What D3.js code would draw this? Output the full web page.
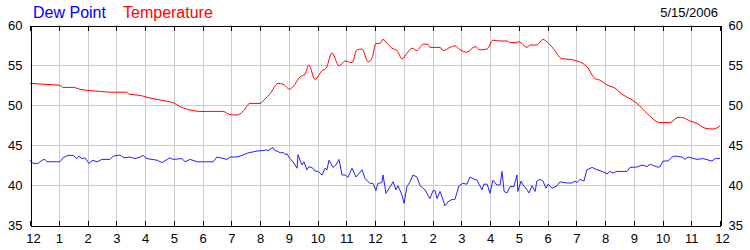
<!DOCTYPE html>
<html>
<head>
<meta charset="utf-8">
<script src="https://cdn.jsdelivr.net/npm/d3@7"></script>
<style>
  body { margin: 0; background: #fff; }
  svg text { font-family: "Liberation Sans", Arial, sans-serif; }
  .axis path, .axis line { stroke: #000; shape-rendering: crispEdges; }
  .axis text { font-size: 13px; fill: #000; }
  .grid line { stroke: #cccccc; shape-rendering: crispEdges; }
</style>
</head>
<body>
<div id="chart"></div>
<script>
// ---- size
const w = 750;
const h = 250;

// ---- padding
const pLeft = 30;
const pRight = 30;
const pTop = 25;
const pBottom = 25;

// ---- data (hours after midnight, degrees F)
const tempHours = [0.00, 0.45, 1.04, 1.15, 1.50, 1.74, 2.09, 2.43, 2.78, 3.37, 3.45, 3.83, 4.07, 4.42, 4.77, 4.97,
    5.22, 5.67, 5.91, 6.71, 6.96, 7.20, 7.41, 7.65, 8.00, 8.17, 8.35, 8.63, 8.80, 9.04, 9.15, 9.39, 9.57, 9.70,
    9.91, 10.16, 10.30, 10.50, 10.75, 10.96, 11.20, 11.37, 11.55, 11.76, 11.90, 12.03, 12.17, 12.28, 12.42,
    12.59, 12.77, 12.94, 13.11, 13.29, 13.46, 13.67, 13.84, 13.91, 14.26, 14.37, 14.61, 14.78, 14.96, 15.20,
    15.48, 15.65, 15.90, 16.10, 16.35, 16.59, 16.70, 16.87, 17.01, 17.29, 17.39, 17.63, 17.84, 17.98, 18.19,
    18.50, 18.78, 19.03, 19.37, 19.65, 19.83, 20.07, 20.35, 20.63, 20.87, 21.11, 21.46, 21.81, 21.91, 22.26,
    22.54, 22.71, 22.96, 23.20, 23.48, 23.76, 24.00];
const tempValues = [52.7, 52.6, 52.46, 52.2, 52.2, 51.96, 51.8, 51.7, 51.6, 51.6, 51.35, 51.2, 50.96, 50.7, 50.46, 50.3,
    49.8, 49.3, 49.2, 49.2, 48.8, 48.75, 49.2, 50.2, 50.2, 50.75, 51.4, 52.7, 52.6, 51.96, 52.3, 53.5, 53.9, 55.0,
    53.2, 54.3, 54.6, 56.5, 54.9, 55.5, 55.3, 56.9, 57.0, 55.4, 55.9, 57.7, 57.7, 58.2, 57.7,
    57.1, 56.8, 55.75, 56.46, 57.1, 56.8, 57.6, 57.6, 57.2, 57.2, 56.8, 57.2, 57.4, 56.9, 56.6,
    57.3, 56.9, 57.0, 58.1, 58.0, 58.0, 57.8, 57.8, 57.9, 57.2, 57.5, 57.5, 58.2, 57.9, 57.1,
    55.8, 55.7, 55.5, 54.8, 53.3, 53.1, 52.5, 52.1, 51.25, 50.8, 50.2, 48.96, 47.9, 47.8, 47.8,
    48.46, 48.4, 48.0, 47.7, 47.1, 47.0, 47.4];

const dewHours = [0.00, 0.10, 0.28, 0.42, 0.52, 0.59, 1.04, 1.15, 1.32, 1.50, 1.63, 1.70, 1.81, 1.91, 2.05, 2.19,
    2.33, 2.50, 2.78, 2.89, 3.13, 3.27, 3.48, 3.65, 3.83, 3.93, 4.07, 4.42, 4.59, 4.77, 4.87, 4.97, 5.29, 5.39,
    5.57, 5.81, 6.37, 6.50, 6.85, 6.96, 7.20, 7.41, 7.58, 7.90, 8.10, 8.24, 8.28, 8.45, 8.52, 8.63, 8.70, 8.80,
    8.87, 8.94, 9.04, 9.15, 9.29, 9.32, 9.46, 9.53, 9.63, 9.70, 9.84, 9.91, 10.02, 10.16, 10.26, 10.33, 10.40,
    10.54, 10.64, 10.75, 10.85, 10.96, 11.06, 11.20, 11.34, 11.55, 11.65, 11.83, 11.93, 12.03, 12.10, 12.24,
    12.28, 12.38, 12.52, 12.63, 12.73, 12.80, 12.94, 13.01, 13.11, 13.22, 13.32, 13.46, 13.57, 13.74, 13.91,
    14.02, 14.09, 14.16, 14.26, 14.37, 14.43, 14.54, 14.68, 14.78, 14.92, 15.06, 15.20, 15.30, 15.41, 15.55,
    15.72, 15.79, 15.90, 16.00, 16.10, 16.24, 16.35, 16.42, 16.49, 16.59, 16.70, 16.83, 16.94, 16.97, 17.08,
    17.15, 17.29, 17.36, 17.46, 17.57, 17.63, 17.74, 17.84, 17.95, 18.02, 18.16, 18.33, 18.43, 18.68, 18.85,
    18.96, 19.03, 19.13, 19.27, 19.37, 19.55, 19.72, 19.90, 20.07, 20.17, 20.28, 20.42, 20.59, 20.77, 20.87,
    21.11, 21.29, 21.46, 21.57, 21.81, 21.91, 22.02, 22.19, 22.37, 22.50, 22.68, 22.78, 22.89, 23.20, 23.41,
    23.72, 23.83, 24.00];
const dewValues = [43.1, 42.7, 42.7, 43.1, 43.2, 42.9, 42.9, 43.4, 43.7, 43.7, 43.3, 43.6, 43.3, 43.4, 42.7, 43.1,
    42.9, 43.2, 43.2, 43.6, 43.75, 43.4, 43.5, 43.3, 43.5, 43.7, 43.3, 43.1, 42.8, 43.2, 43.4, 43.2, 43.3, 42.9,
    43.2, 42.9, 42.9, 43.5, 43.2, 43.5, 43.5, 43.75, 44.0, 44.25, 44.3, 44.4, 44.3, 44.7, 44.3, 44.2, 44.0, 44.1,
    43.8, 43.9, 43.3, 42.9, 42.1, 43.8, 42.5, 42.9, 41.9, 42.3, 42.1, 41.75, 41.7, 41.25, 42.1, 41.9, 43.1,
    42.2, 42.5, 43.2, 41.25, 41.25, 40.96, 42.1, 41.0, 41.9, 40.8, 40.2, 40.2, 39.3, 40.2, 40.3,
    41.25, 38.96, 39.75, 40.4, 39.4, 39.9, 38.75, 37.7, 39.8, 40.4, 41.25, 41.0, 39.9, 39.4, 38.3,
    39.3, 39.3, 38.3, 39.2, 38.1, 37.4, 37.9, 38.2, 38.2, 39.9, 40.2, 40.1, 41.0, 40.8, 40.6,
    39.4, 40.1, 40.1, 38.96, 40.6, 40.0, 40.0, 41.7, 39.2, 39.0, 39.8, 39.8, 41.25, 39.2, 40.5,
    40.0, 39.4, 39.0, 39.9, 39.2, 40.5, 40.7, 40.5, 39.6, 40.1, 39.6, 39.9, 40.4, 40.25, 40.25,
    40.5, 40.3, 40.7, 40.5, 41.9, 42.2, 41.9, 41.7, 41.4, 41.7, 41.5, 41.7, 41.7, 41.7, 42.2,
    42.25, 42.5, 42.3, 42.6, 42.25, 42.25, 43.0, 43.0, 43.6, 43.6, 43.5, 43.2, 43.5, 43.2, 43.3,
    43.0, 43.3, 43.3];

const hourTicks = d3.range(0, 25);
const hourLabels = ["12", "1", "2", "3", "4", "5", "6", "7", "8", "9", "10", "11",
    "12", "1", "2", "3", "4", "5", "6", "7", "8", "9", "10", "11", "12"];
const tempTicks = [35, 40, 45, 50, 55, 60];
const dateLabel = "5/15/2006";

const temps = tempHours.map((t, i) => ({ t: t, v: tempValues[i] }));
const dews = dewHours.map((t, i) => ({ t: t, v: dewValues[i] }));

// SCALES
const xScale = d3.scaleLinear().domain([0, 24]).range([pLeft, w - pRight]);
const yScale = d3.scaleLinear().domain([35, 60]).range([h - pBottom, pTop]);

const svg = d3.select("#chart").append("svg").attr("width", w).attr("height", h);

// GRID
const grid = svg.append("g").attr("class", "grid");
grid.selectAll(".vg")
    .data(hourTicks.slice(1, -1))
    .enter()
    .append("line")
    .attr("x1", (d) => Math.round(xScale(d)) + 0.5)
    .attr("x2", (d) => Math.round(xScale(d)) + 0.5)
    .attr("y1", pTop)
    .attr("y2", h - pBottom);
grid.selectAll(".hg")
    .data(tempTicks.slice(1, -1))
    .enter()
    .append("line")
    .attr("y1", (d) => yScale(d) + 0.5)
    .attr("y2", (d) => yScale(d) + 0.5)
    .attr("x1", pLeft)
    .attr("x2", w - pRight);

// LINES
const line = d3.line().x((d) => xScale(d.t)).y((d) => yScale(d.v));

svg.append("path")
    .attr("d", line.curve(d3.curveLinear)(dews))
    .attr("fill", "none")
    .attr("stroke", "#2222ff")
    .attr("stroke-width", 1);

svg.append("path")
    .attr("d", line.curve(d3.curveMonotoneX)(temps))
    .attr("fill", "none")
    .attr("stroke", "#ff0000")
    .attr("stroke-width", 1);

// AXES
const xAxis = d3.axisBottom(xScale)
    .tickValues(hourTicks)
    .tickFormat((d, i) => hourLabels[i])
    .tickSizeInner(-5)
    .tickSizeOuter(0)
    .tickPadding(8);
const xAxisG = svg.append("g")
    .attr("class", "axis")
    .attr("transform", `translate(0, ${h - pBottom + 0.5})`)
    .call(xAxis);
// end labels are nudged inward/outward like the original
xAxisG.selectAll(".tick text")
    .attr("dx", (d) => (d === 0 ? 3 : d === 24 ? 2 : 0));

const xTop = d3.axisTop(xScale)
    .tickValues(hourTicks)
    .tickFormat("")
    .tickSizeInner(-5)
    .tickSizeOuter(0);
svg.append("g")
    .attr("class", "axis")
    .attr("transform", `translate(0, ${pTop + 0.5})`)
    .call(xTop);

const yLeft = d3.axisLeft(yScale).tickValues(tempTicks).tickSize(0).tickPadding(8);
svg.append("g")
    .attr("class", "axis")
    .attr("transform", `translate(${pLeft + 0.5}, 0)`)
    .call(yLeft);

const yRight = d3.axisRight(yScale).tickValues(tempTicks).tickSize(0).tickPadding(8);
svg.append("g")
    .attr("class", "axis")
    .attr("transform", `translate(${w - pRight + 0.5}, 0)`)
    .call(yRight);

svg.selectAll(".axis .tick line").attr("stroke", "#000");
svg.selectAll(".axis .domain").attr("stroke", "#000");

// LEGEND
svg.append("text")
    .attr("x", 33)
    .attr("y", 18)
    .style("font-size", "16px")
    .attr("fill", "#0000ff")
    .text("Dew Point");
svg.append("text")
    .attr("x", 123)
    .attr("y", 18)
    .style("font-size", "16px")
    .attr("fill", "#ff0000")
    .text("Temperature");

// DATE
svg.append("text")
    .attr("x", w - pRight - 2)
    .attr("y", 17)
    .attr("text-anchor", "end")
    .style("font-size", "13px")
    .attr("fill", "#000")
    .text(dateLabel);
</script>
</body>
</html>
